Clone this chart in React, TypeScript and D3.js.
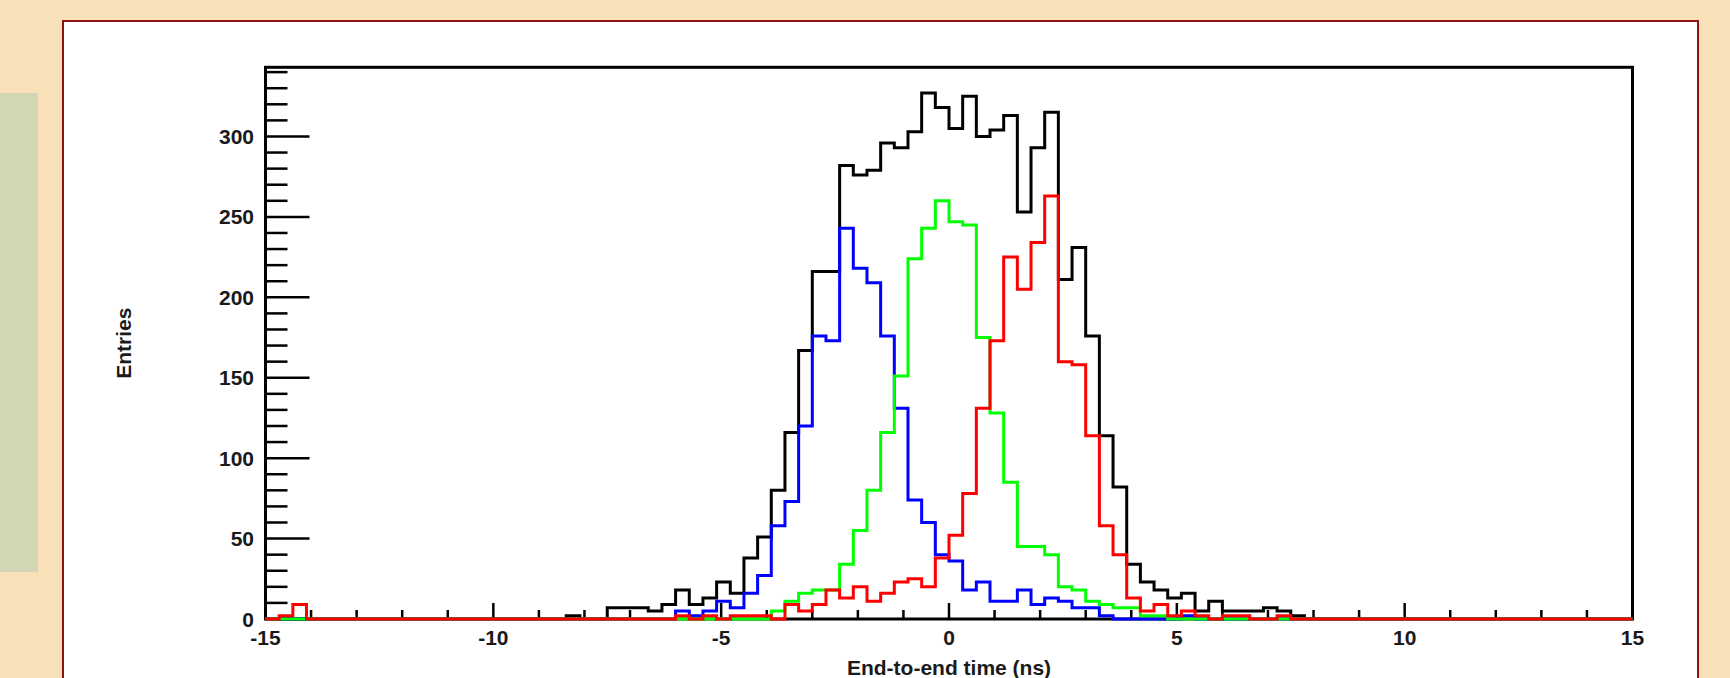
import React, { useRef, useEffect } from "react";
import * as d3 from "d3";

// histogram: 100 bins of 0.3 ns from -15 to 15 ns
const xRange: [number, number] = [-15, 15];
const binWidth = 0.3;
const xTickLabels = [-15, -10, -5, 0, 5, 10, 15];
const yTickLabels = [0, 50, 100, 150, 200, 250, 300];

// all events (black)
const allCounts = [
  0, 0, 0, 0, 0, 0, 0, 0, 0, 0,
  0, 0, 0, 0, 0, 0, 0, 0, 0, 0,
  0, 0, 2, 0, 0, 7, 7, 7, 5, 9,
  18, 9, 13, 23, 16, 38, 51, 80, 116, 167,
  216, 216, 282, 276, 279, 296, 293, 303, 327, 318,
  305, 325, 300, 304, 313, 253, 293, 315, 211, 231,
  176, 114, 82, 34, 23, 18, 13, 16, 5, 11,
  5, 5, 5, 7, 5, 2, 0, 0, 0, 0,
  0, 0, 0, 0, 0, 0, 0, 0, 0, 0,
  0, 0, 0, 0, 0, 0, 0, 0, 0, 0,
];

// blue
const blueCounts = [
  0, 0, 0, 0, 0, 0, 0, 0, 0, 0,
  0, 0, 0, 0, 0, 0, 0, 0, 0, 0,
  0, 0, 0, 0, 0, 0, 0, 0, 0, 0,
  5, 2, 5, 11, 7, 16, 27, 58, 73, 120,
  176, 173, 243, 218, 209, 176, 131, 74, 60, 40,
  36, 18, 23, 11, 11, 18, 9, 13, 11, 7,
  7, 2, 0, 0, 0, 0, 0, 2, 0, 0,
  0, 0, 0, 0, 0, 0, 0, 0, 0, 0,
  0, 0, 0, 0, 0, 0, 0, 0, 0, 0,
  0, 0, 0, 0, 0, 0, 0, 0, 0, 0,
];

// green
const greenCounts = [
  0, 0, 0, 0, 0, 0, 0, 0, 0, 0,
  0, 0, 0, 0, 0, 0, 0, 0, 0, 0,
  0, 0, 0, 0, 0, 0, 0, 0, 0, 0,
  0, 0, 0, 0, 0, 0, 0, 5, 11, 16,
  18, 18, 34, 55, 80, 116, 151, 224, 243, 260,
  247, 245, 175, 128, 85, 45, 45, 40, 20, 18,
  11, 9, 7, 7, 2, 2, 0, 0, 0, 0,
  0, 0, 0, 0, 0, 0, 0, 0, 0, 0,
  0, 0, 0, 0, 0, 0, 0, 0, 0, 0,
  0, 0, 0, 0, 0, 0, 0, 0, 0, 0,
];

// red
const redCounts = [
  0, 2, 9, 0, 0, 0, 0, 0, 0, 0,
  0, 0, 0, 0, 0, 0, 0, 0, 0, 0,
  0, 0, 0, 0, 0, 0, 0, 0, 0, 0,
  2, 0, 2, 0, 2, 2, 2, 0, 9, 5,
  9, 18, 13, 20, 11, 16, 23, 25, 20, 38,
  52, 78, 131, 173, 225, 205, 234, 263, 160, 158,
  114, 58, 40, 13, 5, 9, 2, 5, 2, 0,
  2, 2, 0, 0, 2, 0, 0, 0, 0, 0,
  0, 0, 0, 0, 0, 0, 0, 0, 0, 0,
  0, 0, 0, 0, 0, 0, 0, 0, 0, 0,
];

const histos = [
  { color: "#000000", counts: allCounts },
  { color: "#0000ff", counts: blueCounts },
  { color: "#00ff00", counts: greenCounts },
  { color: "#ff0000", counts: redCounts },
];

const W = 1730;
const H = 678;
const FONT = "'Liberation Sans', Arial, Helvetica, sans-serif";

const App: React.FC = () => {
  const svgRef = useRef<SVGSVGElement | null>(null);

  useEffect(() => {
    const svg = d3.select(svgRef.current);
    svg.selectAll("*").remove();

    // page background + side panel + white card
    svg.append("rect").attr("width", W).attr("height", H).attr("fill", "#f8e1b9");
    svg.append("rect").attr("x", 0).attr("y", 93).attr("width", 38).attr("height", 479).attr("fill", "#d3d6b5");
    svg.append("rect")
      .attr("x", 63).attr("y", 21)
      .attr("width", 1635).attr("height", 680)
      .attr("fill", "#ffffff")
      .attr("stroke", "#8e1212")
      .attr("stroke-width", 2);

    const left = 265.5, right = 1632.5, top = 67.3, bottom = 619;

    const x = d3.scaleLinear().domain(xRange).range([left, right]);
    const y = d3.scaleLinear().domain([0, 343]).range([bottom, top]);

    const g = svg.append("g");

    // frame
    g.append("rect")
      .attr("x", left).attr("y", top)
      .attr("width", right - left).attr("height", bottom - top)
      .attr("fill", "none").attr("stroke", "#000").attr("stroke-width", 3);

    // y ticks (inside)
    const yTicks = d3.range(0, 341, 10);
    g.selectAll("line.yt")
      .data(yTicks)
      .join("line")
      .attr("class", "yt")
      .attr("x1", left)
      .attr("x2", (d) => left + (d % 50 === 0 ? 44 : 22))
      .attr("y1", (d) => y(d))
      .attr("y2", (d) => y(d))
      .attr("stroke", "#000")
      .attr("stroke-width", 2.5);

    // x ticks (inside)
    const xTicks = d3.range(-15, 16, 1);
    g.selectAll("line.xt")
      .data(xTicks)
      .join("line")
      .attr("class", "xt")
      .attr("x1", (d) => x(d))
      .attr("x2", (d) => x(d))
      .attr("y1", bottom)
      .attr("y2", (d) => bottom - (d % 5 === 0 ? 16 : 9))
      .attr("stroke", "#000")
      .attr("stroke-width", 2.5);

    g.selectAll("text.yl")
      .data(yTickLabels)
      .join("text")
      .attr("class", "yl")
      .attr("x", 254)
      .attr("y", (d) => y(d))
      .attr("text-anchor", "end")
      .attr("dominant-baseline", "central")
      .attr("font-family", FONT)
      .attr("font-weight", "bold")
      .attr("font-size", 21)
      .attr("fill", "#1a1a1a")
      .text((d) => d);

    g.selectAll("text.xl")
      .data(xTickLabels)
      .join("text")
      .attr("class", "xl")
      .attr("x", (d) => x(d))
      .attr("y", 637)
      .attr("text-anchor", "middle")
      .attr("dominant-baseline", "central")
      .attr("font-family", FONT)
      .attr("font-weight", "bold")
      .attr("font-size", 21)
      .attr("fill", "#1a1a1a")
      .text((d) => d);

    // axis titles
    g.append("text")
      .attr("x", (left + right) / 2)
      .attr("y", 667)
      .attr("text-anchor", "middle")
      .attr("dominant-baseline", "central")
      .attr("font-family", FONT)
      .attr("font-weight", "bold")
      .attr("font-size", 21)
      .attr("fill", "#1a1a1a")
      .text("End-to-end time (ns)");

    g.append("text")
      .attr("transform", `translate(123, ${(top + bottom) / 2}) rotate(-90)`)
      .attr("text-anchor", "middle")
      .attr("dominant-baseline", "central")
      .attr("font-family", FONT)
      .attr("font-weight", "bold")
      .attr("font-size", 21)
      .attr("fill", "#1a1a1a")
      .text("Entries");

    // histograms as step outlines
    const line = d3.line<[number, number]>()
      .x((d) => x(d[0]))
      .y((d) => y(d[1]))
      .curve(d3.curveStepAfter);

    histos.forEach((h) => {
      const pts: [number, number][] = h.counts.map((c, i) => [xRange[0] + i * binWidth, c]);
      pts.push([xRange[1], h.counts[h.counts.length - 1]]);
      g.append("path")
        .attr("d", line(pts))
        .attr("fill", "none")
        .attr("stroke", h.color)
        .attr("stroke-width", 3)
        .attr("stroke-linejoin", "miter");
    });
  }, []);

  return (
    <svg
      ref={svgRef}
      width={W}
      height={H}
      style={{ position: "absolute", left: 0, top: 0, display: "block" }}
    />
  );
};

export default App;
